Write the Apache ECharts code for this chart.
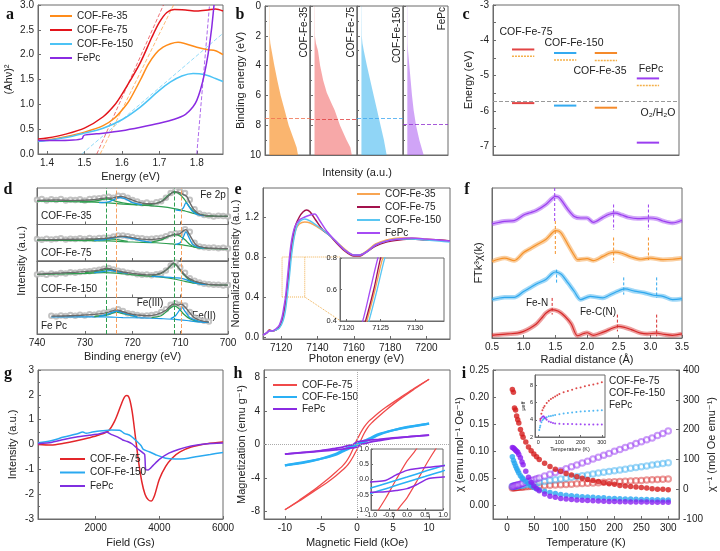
<!DOCTYPE html>
<html><head><meta charset="utf-8">
<script src="https://cdn.jsdelivr.net/npm/echarts@6/dist/echarts.min.js"></script>
<style>html,body{margin:0;padding:0;background:#fff}#c{width:720px;height:551px}</style>
</head><body><div id="c"></div>
<script>
// ---------------- DATA ----------------
// (a) Tauc plot
const aE35 = [[1.376,0.26],[1.40,0.28],[1.45,0.35],[1.50,0.44],[1.55,0.57],[1.58,0.72],[1.60,0.88],[1.62,1.08],[1.65,1.5],[1.67,1.8],[1.69,2.02],[1.71,2.15],[1.73,2.22],[1.75,2.25],[1.77,2.22],[1.80,2.15],[1.83,2.1],[1.85,2.08],[1.87,2.0]];
const aE75 = [[1.376,0.3],[1.40,0.32],[1.45,0.4],[1.50,0.52],[1.55,0.75],[1.58,0.98],[1.60,1.2],[1.62,1.45],[1.65,1.85],[1.68,2.35],[1.70,2.65],[1.72,2.85],[1.74,2.91],[1.77,2.9],[1.80,2.88],[1.83,2.9],[1.85,2.92],[1.87,2.88]];
const aE150 = [[1.376,0.25],[1.40,0.27],[1.45,0.33],[1.50,0.42],[1.55,0.52],[1.60,0.69],[1.65,0.95],[1.70,1.28],[1.73,1.45],[1.76,1.57],[1.79,1.62],[1.82,1.6],[1.85,1.52],[1.87,1.46]];
const aPc = [[1.376,0.27],[1.42,0.27],[1.47,0.28],[1.494,0.31],[1.497,0.36],[1.50,0.38],[1.55,0.42],[1.60,0.47],[1.65,0.54],[1.70,0.62],[1.74,0.7],[1.77,0.8],[1.79,0.95],[1.80,1.08],[1.81,1.3],[1.82,1.6],[1.83,2.0],[1.84,2.55],[1.846,3.0]];
const aTan35 = [[1.542,0],[1.738,3]];
const aTan75 = [[1.533,0],[1.711,3]];
const aTan150 = [[1.493,0],[1.87,2.43]];
const aTanPc = [[1.80,0],[1.834,3]];
const aTicksX = [1.4,1.5,1.6,1.7,1.8];

// (b) VB-XPS  [binding energy, intensity]
const bNames = ['COF-Fe-35','COF-Fe-75','COF-Fe-150','FePc'];
const b35 = [[0,0.5],[2,1],[2.5,3],[3,7],[4,15],[5,24],[6,34],[7,46],[8,58],[9,74],[9.5,82],[10,86]];
const b75 = [[0,0.5],[2,1],[2.5,4],[3,10],[4,16],[5,25],[5.8,35],[6.5,48],[7,58],[8,73],[9,92],[9.5,103],[10,107]];
const b150 = [[0,0.5],[2,1],[2.5,3],[3,7],[4,16],[5,26],[6,36],[7,46],[8,56],[9,66],[10,74]];
const bPc = [[0,0.5],[2.5,1],[3,2],[4,6],[5,10],[6,14],[7,19],[8,26],[9,36],[10,49]];
const bVBM = [7.55, 7.62, 7.5, 7.95];

// (c) band levels
const cNames = ['COF-Fe-75','COF-Fe-150','COF-Fe-35','FePc'];
const cX = [16.2, 38.8, 60.7, 83.3];
const cLUMO = [-4.26, -4.36, -4.36, -5.08];
const cFermi = [-4.45, -4.56, -4.57, -5.28];
const cHOMO = [-5.78, -5.85, -5.91, -6.9];
const cRef = -5.73;
const cTicks = [-3,-4,-5,-6,-7];

// (d) Fe 2p XPS
const dBE = [740,739,738,737,736,735,734,733,732,731,730,729,728,727,726,725,724,723,722,721,720,719,718,717,716,715,714,713,712,711,710,709,708,707,706,705,704,703,702,701,700];
const dBEPc = [737,736,735,734,733,732,731,730,729,728,727,726,725,724,723,722,721,720,719,718,717,716,715,714,713,712,711,710,709,708,707,706,705,704];
const d35pts = [0.68,0.70,0.66,0.69,0.67,0.70,0.66,0.68,0.67,0.69,0.66,0.70,0.71,0.72,0.74,0.76,0.73,0.79,0.78,0.73,0.67,0.63,0.58,0.60,0.57,0.61,0.64,0.73,0.86,0.93,0.90,0.86,0.68,0.42,0.30,0.26,0.25,0.22,0.24,0.23,0.22];
const d75pts = [0.60,0.58,0.61,0.59,0.60,0.62,0.59,0.61,0.60,0.62,0.60,0.63,0.61,0.63,0.64,0.64,0.67,0.70,0.70,0.68,0.66,0.63,0.62,0.60,0.61,0.62,0.64,0.68,0.73,0.76,0.76,0.87,0.80,0.50,0.40,0.38,0.36,0.37,0.35,0.36,0.34];
const d150pts = [0.63,0.65,0.62,0.66,0.64,0.67,0.66,0.69,0.68,0.70,0.71,0.72,0.74,0.76,0.79,0.81,0.77,0.73,0.71,0.68,0.67,0.64,0.62,0.63,0.61,0.64,0.66,0.74,0.88,0.96,0.82,0.68,0.53,0.46,0.41,0.38,0.36,0.35,0.35,0.33,0.34];
const dPcPts = [0.50,0.48,0.51,0.49,0.52,0.50,0.53,0.51,0.54,0.53,0.56,0.58,0.60,0.64,0.68,0.63,0.57,0.55,0.52,0.50,0.51,0.52,0.54,0.60,0.68,0.80,0.84,0.80,0.78,0.60,0.45,0.39,0.36,0.34];
const d35env = [[740,0.66],[736,0.67],[732,0.66],[729,0.67],[727,0.7],[725.5,0.73],[724.5,0.72],[723.5,0.75],[722.5,0.77],[721,0.72],[719,0.62],[717,0.57],[715,0.58],[713.5,0.66],[712.3,0.8],[711.3,0.9],[710.3,0.88],[709.3,0.82],[708.6,0.76],[708,0.6],[707.2,0.42],[706.2,0.3],[705,0.25],[703,0.23],[700,0.23]];
const d35bg = [[740,0.64],[730,0.62],[726,0.6],[722,0.56],[718,0.53],[714,0.49],[711,0.43],[709,0.37],[707,0.3],[705,0.25],[703,0.23],[700,0.22]];
const d35g1 = [[731,0.62],[728,0.64],[726.5,0.68],[725.5,0.7],[724.5,0.68],[723,0.62],[721,0.57],[719,0.54]];
const d35g2 = [[718,0.53],[716,0.55],[714,0.63],[712.5,0.8],[711.3,0.89],[710.3,0.85],[709.2,0.7],[708,0.47],[707,0.34],[705.5,0.26],[703,0.23]];
const d35b1 = [[727,0.6],[725,0.62],[723.8,0.69],[722.7,0.74],[721.5,0.7],[720,0.6],[718,0.54]];
const d35b2 = [[711,0.4],[710,0.38],[709.3,0.47],[708.8,0.6],[708.3,0.52],[707.5,0.37],[706.5,0.28],[705,0.24]];
const d75env = [[740,0.58],[735,0.59],[730,0.6],[727,0.61],[725,0.63],[723,0.67],[722,0.68],[720,0.64],[718,0.6],[716,0.59],[714,0.62],[712.5,0.68],[711.2,0.73],[710.2,0.74],[709.3,0.83],[708.8,0.86],[708.2,0.75],[707.3,0.55],[706.5,0.42],[705,0.37],[703,0.35],[700,0.34]];
const d75bg = [[740,0.57],[730,0.56],[725,0.55],[720,0.52],[715,0.5],[712,0.47],[709,0.43],[707,0.38],[705,0.35],[700,0.33]];
const d75g1 = [[730,0.57],[727,0.6],[725.5,0.62],[724,0.6],[721,0.54]];
const d75g2 = [[716,0.52],[714,0.58],[712.5,0.67],[711.2,0.72],[710,0.68],[709,0.58],[708,0.45],[707,0.38],[705.5,0.35]];
const d75b1 = [[728,0.56],[725,0.6],[722.5,0.67],[720.5,0.63],[718,0.55],[716,0.51]];
const d75b2 = [[711,0.45],[710,0.5],[709.3,0.68],[708.8,0.8],[708.3,0.68],[707.5,0.47],[706.5,0.39],[705,0.35]];
const d150env = [[740,0.64],[735,0.67],[730,0.71],[727,0.75],[725.3,0.8],[724,0.76],[722,0.7],[720,0.66],[717,0.62],[715,0.63],[713.5,0.7],[712.3,0.84],[711.4,0.95],[710.6,0.86],[709.6,0.7],[708.5,0.55],[707,0.45],[705,0.38],[703,0.35],[700,0.34]];
const d150bg = [[740,0.63],[730,0.66],[726,0.68],[722,0.65],[718,0.6],[714,0.56],[711,0.5],[709,0.44],[707,0.39],[704,0.35],[700,0.34]];
const d150g1 = [[730,0.68],[727,0.72],[725.3,0.77],[723.5,0.72],[721,0.66]];
const d150g2 = [[716,0.6],[714,0.66],[712.5,0.8],[711.4,0.93],[710.5,0.84],[709.5,0.66],[708.3,0.5],[707,0.42],[705,0.37]];
const d150b1 = [[728,0.68],[725.5,0.72],[724.5,0.74],[723,0.7],[721,0.66]];
const d150b2 = [[716,0.58],[713,0.56],[711,0.54],[709.5,0.52],[708,0.45],[706.5,0.39],[704.5,0.35]];
const dPcEnv = [[737,0.49],[733,0.5],[730,0.52],[727,0.55],[725,0.6],[723.3,0.66],[722,0.61],[720,0.54],[717,0.5],[715,0.53],[713,0.65],[711.8,0.8],[711,0.82],[710.5,0.79],[709.8,0.82],[709,0.74],[708,0.58],[707,0.44],[705.5,0.36],[704,0.33]];
const dPcBg = [[737,0.47],[730,0.47],[726,0.47],[722,0.45],[718,0.44],[714,0.42],[711,0.4],[708,0.36],[706,0.33],[704,0.32]];
const dPcG1 = [[728,0.48],[725,0.53],[723.5,0.6],[722,0.56],[719,0.47]];
const dPcG2 = [[716,0.45],[714,0.5],[712.5,0.66],[711.3,0.77],[710.3,0.7],[709.3,0.55],[708,0.42],[706,0.34]];
const dPcB1 = [[727,0.48],[725,0.55],[723.3,0.63],[721.5,0.56],[719,0.47]];
const dPcB2 = [[712,0.42],[711,0.5],[710,0.68],[709.6,0.72],[709,0.62],[708,0.45],[706.5,0.36],[704.5,0.32]];
const dGreenLines = [725.5, 711.2];
const dOrangeLines = [723.3, 709.7];
const dLabels = ['COF-Fe-35','COF-Fe-75','COF-Fe-150','Fe Pc'];

// (e) XANES
const e35 = [[7110,0.02],[7112,0.04],[7113.5,0.07],[7115,0.06],[7117,0.07],[7119,0.1],[7120.5,0.15],[7122,0.26],[7123,0.4],[7124.2,0.6],[7125.3,0.8],[7126.5,0.95],[7128,1.07],[7130,1.13],[7133,1.15],[7136,1.14],[7140,1.1],[7145,1.04],[7150,0.96],[7155,0.88],[7160,0.82],[7163,0.82],[7167,0.86],[7172,0.93],[7178,0.97],[7185,0.99],[7192,0.99],[7200,0.98],[7207,0.97],[7213,0.96]];
const e75 = [[7110,0.02],[7112,0.04],[7113.5,0.07],[7115,0.06],[7117,0.07],[7119,0.1],[7120.5,0.16],[7122,0.3],[7122.8,0.4],[7124,0.6],[7125,0.8],[7126.2,0.97],[7128,1.12],[7130,1.2],[7132,1.25],[7134,1.27],[7136,1.25],[7139,1.17],[7143,1.07],[7147,1.01],[7150,0.95],[7155,0.86],[7160,0.81],[7163,0.81],[7167,0.85],[7172,0.91],[7178,0.95],[7185,0.97],[7192,0.98],[7200,0.97],[7207,0.97],[7213,0.96]];
const e150 = [[7110,0.02],[7112,0.04],[7113.5,0.06],[7115,0.06],[7117,0.07],[7119,0.09],[7121,0.16],[7122.3,0.26],[7123.3,0.4],[7124.5,0.6],[7125.6,0.8],[7126.8,0.96],[7128.5,1.1],[7130.5,1.16],[7133,1.18],[7136,1.16],[7140,1.11],[7145,1.04],[7150,0.96],[7155,0.87],[7160,0.82],[7163,0.82],[7167,0.85],[7172,0.92],[7178,0.96],[7185,0.98],[7192,0.98],[7200,0.97],[7207,0.96],[7213,0.95]];
const ePc = [[7110,0.02],[7112,0.04],[7113.5,0.06],[7115,0.06],[7117,0.08],[7119,0.12],[7120.5,0.2],[7121.5,0.3],[7122.4,0.4],[7123.5,0.6],[7124.6,0.8],[7125.8,0.97],[7127.5,1.1],[7130,1.17],[7133,1.2],[7136,1.22],[7138.5,1.23],[7141,1.17],[7145,1.06],[7150,0.96],[7155,0.87],[7160,0.82],[7163,0.82],[7167,0.85],[7172,0.92],[7178,0.96],[7185,0.98],[7192,0.99],[7200,0.98],[7207,0.97],[7213,0.96]];
const eBox = [7120.5, 7133, 0.4, 0.8];
const eInsetCorner = [7152.8, 0.8, 0.16];
const eTicksX = [7120,7140,7160,7180,7200];
const eTicksY = [0,0.4,0.8,1.2];

// (f) EXAFS R-space
const fPc = [[0.5,76],[0.6,77],[0.7,77.8],[0.85,78.2],[1.0,82],[1.1,83.5],[1.2,85],[1.35,89],[1.45,93],[1.5,94.4],[1.55,94],[1.6,91.6],[1.7,85.6],[1.8,81],[1.9,80],[2.0,80],[2.1,77.1],[2.25,80.4],[2.35,82.5],[2.45,83.3],[2.55,82],[2.65,80.5],[2.8,79.6],[3.0,80],[3.1,79.5],[3.2,78],[3.35,76.7],[3.5,78.5]];
const f35 = [[0.5,51],[0.6,52.5],[0.7,53.3],[0.85,51.6],[1.0,57],[1.1,59.5],[1.2,62],[1.35,65.6],[1.45,70],[1.5,71.6],[1.55,71.3],[1.6,69.5],[1.7,62.2],[1.8,55],[1.85,52.2],[2.0,52.9],[2.1,51.6],[2.25,54.4],[2.35,56.5],[2.45,57.3],[2.55,56.5],[2.7,54],[2.85,52.5],[3.0,53.3],[3.2,52.2],[3.35,52.5],[3.5,53.3]];
const f150 = [[0.5,25.6],[0.6,26.5],[0.7,27.1],[0.85,27.1],[1.0,31],[1.1,33.5],[1.2,36],[1.35,39],[1.45,43],[1.5,44],[1.55,43.5],[1.6,42.2],[1.7,36.7],[1.8,31],[1.9,25.6],[2.05,27.8],[2.25,26.7],[2.35,28.5],[2.45,30.5],[2.6,32.7],[2.75,31.2],[2.9,30.2],[3.05,28.5],[3.2,27.8],[3.35,25.6],[3.5,26.2]];
const f75 = [[0.5,1.8],[0.6,2.2],[0.75,2.7],[0.9,3.2],[1.0,4.4],[1.1,6.5],[1.2,9.3],[1.3,14],[1.35,16.5],[1.45,18.9],[1.55,17.8],[1.65,14.5],[1.75,9.5],[1.85,1.5],[1.95,3],[2.0,3.5],[2.1,1.8],[2.2,3],[2.3,4.6],[2.4,6.5],[2.5,7.8],[2.6,7],[2.7,5.6],[2.85,3.2],[2.95,2.7],[3.1,3.3],[3.2,2.5],[3.35,1.8],[3.5,2.7]];
const fDashPc = [[1.49,100,78],[2.42,89,72],[2.97,89,72]];
const fDash35 = [[1.5,78,56],[2.42,67,50],[2.97,67,52]];
const fDash150 = [[1.52,45.6,35.6],[2.58,40.4,28.9],[3.1,40.4,26.7]];
const fDash75 = [[1.45,26.7,15.6],[2.48,15.6,4.4],[3.1,15.6,1.1]];

// (g) EPR
const g75 = [[190,0],[600,-0.02],[1000,0.05],[1400,0.15],[1800,0.27],[2100,0.38],[2400,0.55],[2600,0.95],[2800,1.6],[2900,1.9],[2980,1.97],[3060,1.85],[3150,1.3],[3250,0.3],[3350,-0.7],[3450,-1.5],[3550,-2.0],[3650,-2.22],[3740,-2.28],[3850,-2.05],[4000,-1.4],[4200,-0.88],[4400,-0.55],[4650,-0.3],[5000,-0.1],[5500,0.03],[6000,0.1]];
const g150 = [[190,0.07],[600,0.15],[1000,0.3],[1400,0.42],[1600,0.5],[1700,0.45],[1900,0.5],[2200,0.55],[2500,0.58],[2750,0.57],[2900,0.45],[3100,0.35],[3300,0.12],[3430,-0.05],[3500,-0.2],[3700,-0.3],[3900,-0.42],[4200,-0.55],[4500,-0.58],[4800,-0.57],[5200,-0.48],[5600,-0.4],[6000,-0.32]];
const gPc = [[190,0.03],[600,0.08],[1000,0.2],[1400,0.3],[1800,0.37],[2100,0.42],[2350,0.5],[2500,0.4],[2700,0.3],[2850,0.18],[3000,0.12],[3150,0.02],[3300,-0.15],[3450,-0.3],[3540,-0.4],[3570,-1.0],[3650,-1.03],[3800,-0.85],[4000,-0.6],[4300,-0.35],[4600,-0.2],[5000,-0.06],[5500,0.03],[6000,0.06]];
const gTicksX = [2000,4000,6000];

// (h) M-H loops
const h75down = [[10,7.8],[8,6.75],[6,5.6],[4,4.45],[3,3.8],[2,3.05],[1.5,2.65],[1,2.1],[0.5,1.4],[0.2,0.9],[0,0.6],[-0.3,0],[-0.6,-0.63],[-1,-1.35],[-1.5,-2.05],[-2,-2.55],[-3,-3.35],[-4,-4.1],[-6,-5.45],[-8,-6.65],[-10,-7.8]];
const h75up = [[-10,-7.8],[-8,-6.75],[-6,-5.6],[-4,-4.45],[-3,-3.8],[-2,-3.05],[-1.5,-2.65],[-1,-2.1],[-0.5,-1.4],[-0.2,-0.9],[0,-0.6],[0.3,0],[0.6,0.63],[1,1.35],[1.5,2.05],[2,2.55],[3,3.35],[4,4.1],[6,5.45],[8,6.65],[10,7.8]];
const h150down = [[10,2.5],[7,2.05],[5,1.7],[3,1.25],[2,0.85],[1,0.45],[0.5,0.27],[0,0.08],[-0.5,-0.1],[-1,-0.28],[-2,-0.7],[-3,-1.15],[-5,-1.7],[-7,-2.1],[-10,-2.5]];
const h150up = [[-10,-2.5],[-7,-2.05],[-5,-1.7],[-3,-1.25],[-2,-0.85],[-1,-0.45],[-0.5,-0.27],[0,-0.08],[0.5,0.1],[1,0.28],[2,0.7],[3,1.15],[5,1.7],[7,2.1],[10,2.5]];
const hPcDown = [[10,1.12],[7,0.92],[5,0.78],[3,0.62],[2,0.55],[1,0.45],[0.6,0.4],[0.3,0.36],[0,0.3],[-0.3,0.15],[-0.6,-0.03],[-1,-0.08],[-2,-0.3],[-3,-0.45],[-5,-0.72],[-7,-0.92],[-10,-1.15]];
const hPcUp = [[-10,-1.15],[-7,-0.94],[-5,-0.8],[-3,-0.63],[-2,-0.55],[-1,-0.42],[-0.6,-0.4],[-0.3,-0.36],[0,-0.3],[0.3,-0.15],[0.6,0.03],[1,0.08],[2,0.3],[3,0.45],[5,0.72],[7,0.92],[10,1.12]];
const hTicksX = [-10,-5,0,5,10];
const hTicksY = [-8,-4,0,4,8];

// (i) susceptibility
const iT = [10,12,14,16,18,20,22,25,28,30,35,40,45,50,55,60,70,80,90,100,110,120,130,140,150,160,170,180,190,200,210,220,230,240,250,260,270,280,290,300];
const iChi75 = [0.214,0.209,0.180,0.176,0.165,0.158,0.152,0.140,0.132,0.126,0.117,0.108,0.101,0.095,0.090,0.085,0.078,0.072,0.067,0.063,0.059,0.056,0.053,0.050,0.048,0.046,0.044,0.042,0.040,0.039,0.037,0.036,0.035,0.034,0.033,0.032,0.031,0.030,0.030,0.029];
const iChi150 = [0.090,0.083,0.078,0.073,0.068,0.064,0.060,0.055,0.051,0.049,0.044,0.040,0.036,0.033,0.031,0.029,0.026,0.024,0.022,0.020,0.019,0.018,0.017,0.016,0.0155,0.015,0.014,0.014,0.013,0.013,0.0125,0.012,0.012,0.0115,0.011,0.011,0.0105,0.0105,0.010,0.010];
const iChiPc = [0.107,0.106,0.104,0.102,0.100,0.098,0.094,0.088,0.080,0.075,0.063,0.052,0.043,0.036,0.031,0.027,0.021,0.017,0.015,0.013,0.012,0.011,0.010,0.0095,0.009,0.0085,0.008,0.0078,0.0075,0.0072,0.007,0.0068,0.0066,0.0065,0.0063,0.0062,0.006,0.006,0.0058,0.0057];
const iInv75 = [4,4.5,5,5.5,6,6.3,6.6,7,7.5,7.8,8.5,9,9.5,10,10.5,11,12,13,14,15,16,17,18,19,20,21,22,23,24,25,26,27,27.5,28.5,29.5,30.5,31.5,32.5,33.5,34.5];
const iInv150 = [9,9.5,10,10.5,11,11.5,12,13,14,14.5,16,17.5,19,20.5,22,23.5,26,29,32,34.5,37,40,43,45.5,48,51,54,56.5,59,62,64.5,67,70,72.5,75,78,81,83.5,86,89];
const iInvPc = [9,10,11,12,13,14,15,17,19,20,23,26,29,32,35,38,44,50,56,62,69,75,81,88,94,101,107,114,120,127,133,140,146,153,159,166,172,180,187,195];
const iMu75 = [[10,4.1],[15,4.7],[20,5.1],[25,5.4],[30,5.6],[40,5.95],[50,6.2],[60,6.4],[70,6.55],[80,6.7],[90,6.85],[100,7.0],[120,7.2],[140,7.35],[160,7.5],[180,7.65],[200,7.75],[220,7.9],[240,8.0],[260,8.1],[280,8.2],[300,8.35]];
const iMu150 = [[5,2.8],[8,3.1],[10,3.3],[15,3.7],[20,3.95],[25,4.1],[30,4.2],[40,4.3],[50,4.4],[60,4.45],[70,4.5],[80,4.55],[100,4.65],[120,4.72],[140,4.8],[160,4.85],[180,4.9],[200,4.95],[220,5.0],[240,5.02],[260,5.05],[280,5.08],[300,5.1]];
const iMuPc = [[10,3.9],[15,4.2],[20,4.35],[25,4.4],[30,4.3],[35,4.15],[40,4.0],[50,3.8],[60,3.7],[70,3.62],[80,3.58],[100,3.55],[120,3.52],[140,3.5],[160,3.5],[180,3.48],[200,3.47],[220,3.46],[240,3.46],[260,3.45],[280,3.45],[300,3.45]];
const iTicksX = [0,50,100,150,200,250,300];
const iTicksL = [0,0.05,0.1,0.15,0.2,0.25];

// ---------------- BUILD ----------------
const FONT = '"Liberation Sans", Arial, "DejaVu Sans", sans-serif';
const AX = '#6b6b6b';
const grids=[], xAxes=[], yAxes=[], series=[], legends=[], graphics=[];
const strip = n => n.split('@')[0];
function isObj(v){return v && typeof v==='object' && !Array.isArray(v) && typeof v!=='function';}
function merge(a,b){const o=Object.assign({},a);for(const k in b){if(isObj(b[k])&&isObj(a[k]))o[k]=merge(a[k],b[k]);else o[k]=b[k];}return o;}
function addGrid(l,t,w,h,inset){const g={left:l,top:t,width:w,height:h,show:true,borderColor:AX,borderWidth:1};if(inset){g.backgroundColor='#fff';g.z=10;}grids.push(g);return grids.length-1;}
const plain=v=>String(v);
const baseAxis={type:'value',nameLocation:'middle',axisLine:{show:true,onZero:false,lineStyle:{color:AX,width:1}},axisTick:{show:true,inside:true,length:3,lineStyle:{color:AX}},axisLabel:{fontSize:10,color:'#222',fontFamily:FONT,margin:4,formatter:plain},splitLine:{show:false},nameTextStyle:{fontSize:11,color:'#222',fontFamily:FONT}};
function addX(g,o){xAxes.push(merge(merge(baseAxis,{gridIndex:g}),o||{}));return xAxes.length-1;}
function addY(g,o){yAxes.push(merge(merge(baseAxis,{gridIndex:g}),o||{}));return yAxes.length-1;}
function line(xi,yi,name,data,color,width,extra){series.push(merge({type:'line',name:name,xAxisIndex:xi,yAxisIndex:yi,data:data,symbol:'none',showSymbol:false,smooth:0.3,silent:true,lineStyle:{color:color,width:width||1.5},itemStyle:{color:color}},extra||{}));}
function txt(x,y,text,st,el){graphics.push(Object.assign({type:'text',x:x,y:y,silent:true,style:Object.assign({text:text,fontSize:10,fontFamily:FONT,fill:'#222',textAlign:'center',textVerticalAlign:'middle',align:'center',verticalAlign:'middle'},st||{})},el||{}));}
const legTxt={fontSize:10,color:'#222',fontFamily:FONT};
function legend(left,top,names,iw,gap,extra){legends.push(merge({left:left,top:top,orient:'vertical',icon:'rect',itemWidth:iw,itemHeight:2,itemGap:gap,padding:0,selectedMode:false,data:names,formatter:strip,textStyle:legTxt},extra||{}));}
const hide={axisLabel:{show:false},axisTick:{show:false}};
const fx1=v=>v.toFixed(1), fx2=v=>v.toFixed(2);

// ---- (a)
{
  const C={or:'#ff8c1a',red:'#e3141b',bl:'#4cc3f5',pu:'#8a2be2'};
  const g=addGrid(38,5,185,149);
  const x=addX(g,{min:1.376,max:1.87,name:'Energy (eV)',nameGap:17,axisLabel:{customValues:aTicksX,formatter:fx1},axisTick:{customValues:aTicksX}});
  const y=addY(g,{min:0,max:3,interval:0.5,name:'(Ahν)²',nameGap:24,axisLabel:{formatter:fx1}});
  line(x,y,'tan35',aTan35,C.or,1,{smooth:false,lineStyle:{type:'dashed',opacity:0.6}});
  line(x,y,'tan75',aTan75,C.red,1,{smooth:false,lineStyle:{type:'dashed',opacity:0.6}});
  line(x,y,'tan150',aTan150,C.bl,1,{smooth:false,lineStyle:{type:'dashed',opacity:0.6}});
  line(x,y,'tanPc',aTanPc,C.pu,1,{smooth:false,lineStyle:{type:'dashed',opacity:0.7}});
  line(x,y,'COF-Fe-35@a',aE35,C.or,1.5);
  line(x,y,'COF-Fe-75@a',aE75,C.red,1.5);
  line(x,y,'COF-Fe-150@a',aE150,C.bl,1.5);
  line(x,y,'FePc@a',aPc,C.pu,1.5,{smooth:0.15});
  legend(50,11,['COF-Fe-35@a','COF-Fe-75@a','COF-Fe-150@a','FePc@a'],22,4);
}
// ---- (b)
{
  const curves=[b35,b75,b150,bPc];
  const fills=['rgba(248,150,50,0.7)','rgba(242,110,110,0.6)','rgba(70,185,240,0.6)','rgba(170,90,240,0.55)'];
  const dashes=['#f07050','#e04040','#40a8f0','#9030d0'];
  const lefts=[265,310,357,403], widths=[45,47,46,45];
  curves.forEach((cv,k)=>{
    const g=addGrid(lefts[k],6,widths[k],149);
    const x=addX(g,merge(hide,{min:-13,max:122}));
    const yo={min:0,max:10,interval:2,inverse:true,minorTick:{show:true,splitNumber:2,length:2,lineStyle:{color:AX}}};
    if(k>0) yo.axisLabel={show:false}; else {yo.name='Binding energy (eV)';yo.nameGap=16;}
    const y=addY(g,yo);
    series.push({type:'custom',name:bNames[k]+'@b',xAxisIndex:x,yAxisIndex:y,silent:true,clip:true,
      itemStyle:{color:fills[k]},encode:{x:0,y:1},data:cv.map(p=>[p[1],p[0]]),
      renderItem:(params,api)=>{ if(params.dataIndex!==0) return null;
        const pts=cv.map(p=>api.coord([p[1],p[0]]));
        pts.push(api.coord([0,cv[cv.length-1][0]])); pts.push(api.coord([0,cv[0][0]]));
        return {type:'polygon',shape:{points:pts},style:{fill:fills[k]}}; }});
    series.push({type:'line',name:'vbm'+k,xAxisIndex:x,yAxisIndex:y,data:[],silent:true,
      markLine:{silent:true,symbol:['none','none'],label:{show:false},lineStyle:{color:dashes[k],type:'dashed',width:1,opacity:0.8},data:[{yAxis:bVBM[k]}]}});
    txt(lefts[k]+widths[k]-6,7,bNames[k],{textAlign:'right',align:'right',fontSize:10},{rotation:Math.PI/2});
  });
  txt(357,173,'Intensity (a.u.)',{fontSize:11});
}
// ---- (c)
{
  const cols=['#e24444','#33aaf0','#f58a2a','#9b3ef0'];
  const g=addGrid(493,5,186,150);
  const x=addX(g,merge(hide,{min:0,max:100}));
  const yt=[-3,-3.5,-4,-4.5,-5,-5.5,-6,-6.5,-7];
  const y=addY(g,{min:-7.25,max:-3,name:'Energy (eV)',nameGap:19,axisLabel:{customValues:cTicks},axisTick:{customValues:yt}});
  const seg=(dash,w)=>(params,api)=>{const xv=api.value(0),yv=api.value(1);const p1=api.coord([xv-6,yv]),p2=api.coord([xv+6,yv]);
    return {type:'line',shape:{x1:p1[0],y1:p1[1],x2:p2[0],y2:p2[1]},style:{stroke:api.visual('color'),lineWidth:w,lineDash:dash}};};
  series.push({type:'custom',name:'LUMO',xAxisIndex:x,yAxisIndex:y,silent:true,renderItem:seg(null,2),data:cX.map((v,i)=>({value:[v,cLUMO[i]],itemStyle:{color:cols[i]}}))});
  series.push({type:'custom',name:'HOMO',xAxisIndex:x,yAxisIndex:y,silent:true,renderItem:seg(null,2),data:cX.map((v,i)=>({value:[v,cHOMO[i]],itemStyle:{color:cols[i]}}))});
  series.push({type:'custom',name:'Fermi',xAxisIndex:x,yAxisIndex:y,silent:true,renderItem:seg([2,1],1.5),data:cX.map((v,i)=>({value:[v,cFermi[i]],itemStyle:{color:'#f4b04a'}}))});
  series.push({type:'line',name:'ref',xAxisIndex:x,yAxisIndex:y,data:[],silent:true,
    markLine:{silent:true,symbol:['none','none'],label:{show:false},lineStyle:{color:'#999',type:'dashed',width:1},data:[{yAxis:cRef}]}});
  txt(526,32,'COF-Fe-75',{fontSize:10.5});
  txt(574,43,'COF-Fe-150',{fontSize:10.5});
  txt(600,71,'COF-Fe-35',{fontSize:10.5});
  txt(651,69,'FePc',{fontSize:10.5});
  txt(658,113,'O₂/H₂O',{fontSize:10.5});
}
// ---- (d)
{
  const sets=[[d35pts,dBE,d35env,d35bg,d35g1,d35g2,d35b1,d35b2],[d75pts,dBE,d75env,d75bg,d75g1,d75g2,d75b1,d75b2],[d150pts,dBE,d150env,d150bg,d150g1,d150g2,d150b1,d150b2],[dPcPts,dBEPc,dPcEnv,dPcBg,dPcG1,dPcG2,dPcB1,dPcB2]];
  const GR='#2e9e4f', BL='#1a9be6', H=36.5, top0=188;
  sets.forEach((s,k)=>{
    const g=addGrid(37,top0+k*H,191,H);
    const xo={min:700,max:740,interval:10,inverse:true};
    if(k<3){xo.axisLabel={show:false};} else {xo.name='Binding energy (eV)';xo.nameGap=17;}
    const x=addX(g,xo);
    const y=addY(g,merge(hide,{min:0,max:1}));
    series.push({type:'scatter',name:'pts'+k,xAxisIndex:x,yAxisIndex:y,silent:true,symbol:'emptyCircle',symbolSize:4.5,
      itemStyle:{color:'#b4b4b4',borderWidth:0.8,opacity:0.8},data:s[1].map((b,i)=>[b,s[0][i]])});
    line(x,y,'bg'+k,s[3],k===3?BL:GR,1.2,{markLine:{silent:true,symbol:['none','none'],label:{show:false},
      data:dGreenLines.map(v=>({xAxis:v,lineStyle:{color:GR,type:'dashed',width:1}})).concat(dOrangeLines.map(v=>({xAxis:v,lineStyle:{color:'#f5a060',type:'dashed',width:1}})))}});
    line(x,y,'g1'+k,s[4],GR,1.3);
    line(x,y,'g2'+k,s[5],GR,1.3);
    line(x,y,'b1'+k,s[6],BL,1.3);
    line(x,y,'b2'+k,s[7],BL,1.3);
    line(x,y,'env'+k,s[2],'#6a6a6a',1.4);
    txt(41,top0+k*H+H-8,dLabels[k],{textAlign:'left',align:'left',fontSize:10});
  });
  txt(213,195,'Fe 2p',{fontSize:10});
  txt(150,303,'Fe(III)',{fontSize:10});
  txt(204,316,'Fe(II)',{fontSize:10});
  txt(22,261,'Intensity (a.u.)',{fontSize:11},{rotation:Math.PI/2});
}
// ---- (e)
{
  const C={or:'#f8a552',red:'#a3124c',bl:'#5ac6f2',pu:'#a64bf4'};
  const g=addGrid(263,188,187,151);
  const x=addX(g,{min:7110,max:7213,name:'Photon energy (eV)',nameGap:14,axisLabel:{customValues:eTicksX},axisTick:{customValues:eTicksX}});
  const y=addY(g,{min:-0.02,max:1.49,name:'Normalized intensity (a.u.)',nameGap:17,axisLabel:{customValues:eTicksY,formatter:fx1},axisTick:{customValues:eTicksY}});
  const bx=[[eBox[0],eBox[2]],[eBox[1],eBox[2]],[eBox[1],eBox[3]],[eBox[0],eBox[3]],[eBox[0],eBox[2]]];
  line(x,y,'box',bx,'#f0b050',1,{smooth:false,lineStyle:{type:'dotted'}});
  line(x,y,'zoomTop',[[eBox[1],eBox[3]],[eInsetCorner[0],eInsetCorner[1]]],'#f0b050',1,{smooth:false,lineStyle:{type:'dotted'}});
  line(x,y,'zoomBot',[[eBox[1],eBox[2]],[eInsetCorner[0],eInsetCorner[2]]],'#f0b050',1,{smooth:false,lineStyle:{type:'dotted'}});
  line(x,y,'COF-Fe-35@e',e35,C.or,1.5);
  line(x,y,'COF-Fe-75@e',e75,C.red,1.5);
  line(x,y,'COF-Fe-150@e',e150,C.bl,1.5);
  line(x,y,'FePc@e',ePc,C.pu,1.5);
  legend(357,189,['COF-Fe-35@e','COF-Fe-75@e','COF-Fe-150@e','FePc@e'],23,3);
  // inset
  const gi=addGrid(340,258,104,63,true);
  const insTicks=[7120,7125,7130];
  const xi=addX(gi,{z:11,min:7119.1,max:7134.2,axisLabel:{fontSize:7.5,margin:3,customValues:insTicks},axisTick:{customValues:insTicks,length:2}});
  const yi=addY(gi,{z:11,min:0.4,max:0.8,interval:0.2,axisLabel:{fontSize:7.5,margin:3,formatter:fx1},axisTick:{length:2}});
  [[e35,C.or],[e75,C.red],[e150,C.bl],[ePc,C.pu]].forEach((p,i)=>line(xi,yi,'ins'+i,p[0],p[1],1.3,{z:12,clip:true}));
}
// ---- (f)
{
  const C={pu:'#9b3ef0',or:'#f5922a',bl:'#2fa8ee',red:'#d62a2a'};
  const g=addGrid(492,188,190,150);
  const x=addX(g,{min:0.5,max:3.5,interval:0.5,name:'Radial distance (Å)',nameGap:16,axisLabel:{formatter:fx1}});
  const y=addY(g,merge(hide,{min:0,max:100,name:'FTk³χ(k)',nameGap:8}));
  [[fPc,C.pu,fDashPc],[f35,C.or,fDash35],[f150,C.bl,fDash150],[f75,C.red,fDash75]].forEach((p,i)=>{
    line(x,y,'band'+i,p[0],p[1],4.5,{lineStyle:{opacity:0.45}});
    line(x,y,'fit'+i,p[0],p[1],1.2);
    series.push({type:'custom',name:'dash'+i,xAxisIndex:x,yAxisIndex:y,silent:true,data:p[2],
      renderItem:(params,api)=>{const a=api.coord([api.value(0),api.value(1)]),b=api.coord([api.value(0),api.value(2)]);
        return {type:'line',shape:{x1:a[0],y1:a[1],x2:b[0],y2:b[1]},style:{stroke:p[1],lineWidth:1,lineDash:[3,2]}};}});
  });
  txt(537,303,'Fe-N',{fontSize:10});
  txt(598,312,'Fe-C(N)',{fontSize:10});
}
// ---- (g)
{
  const C={red:'#e3262a',bl:'#2aa9f0',pu:'#7f2fe0'};
  const g=addGrid(38,370,185,149);
  const x=addX(g,{min:190,max:6000,name:'Field (Gs)',nameGap:18,axisLabel:{customValues:gTicksX},axisTick:{customValues:gTicksX}});
  const y=addY(g,{min:-3,max:3,interval:1,name:'Intensity (a.u.)',nameGap:20,minorTick:{show:true,splitNumber:2,length:2,lineStyle:{color:AX}}});
  line(x,y,'COF-Fe-75@g',g75,C.red,1.5);
  line(x,y,'COF-Fe-150@g',g150,C.bl,1.5);
  line(x,y,'FePc@g',gPc,C.pu,1.5,{smooth:0.15});
  legend(60,454,['COF-Fe-75@g','COF-Fe-150@g','FePc@g'],25,3.5);
}
// ---- (h)
{
  const C={red:'#f04a4a',bl:'#2ab0f5',pu:'#8a2be2'};
  const g=addGrid(264,370,186,149);
  const x=addX(g,{min:-12.9,max:12.9,name:'Magnetic Field (kOe)',nameGap:18,axisLabel:{customValues:hTicksX},axisTick:{customValues:hTicksX}});
  const y=addY(g,{min:-8.9,max:8.9,name:'Magnetization (emu g⁻¹)',nameGap:13,axisLabel:{customValues:hTicksY},axisTick:{customValues:hTicksY}});
  series.push({type:'line',name:'cross',xAxisIndex:x,yAxisIndex:y,data:[],silent:true,
    markLine:{silent:true,symbol:['none','none'],label:{show:false},lineStyle:{color:'#aaa',type:'dotted',width:1},data:[{xAxis:0},{yAxis:0}]}});
  line(x,y,'COF-Fe-75@h',h75down,C.red,1.3);
  line(x,y,'r2',h75up,C.red,1.3);
  line(x,y,'COF-Fe-150@h',h150down,C.bl,2.2);
  line(x,y,'b2',h150up,C.bl,2.2);
  line(x,y,'FePc@h',hPcDown,C.pu,1.8);
  line(x,y,'p2',hPcUp,C.pu,1.8);
  legend(273,380,['COF-Fe-75@h','COF-Fe-150@h','FePc@h'],24,2);
  const gi=addGrid(371,449,72,61,true);
  const xi=addX(gi,{z:11,min:-1,max:1,interval:0.5,axisLabel:{fontSize:7,margin:2,formatter:fx1},axisTick:{length:2}});
  const yi=addY(gi,{z:11,min:-1,max:1,interval:0.5,axisLabel:{fontSize:7,margin:2,formatter:fx1},axisTick:{length:2}});
  series.push({type:'line',name:'cross2',xAxisIndex:xi,yAxisIndex:yi,data:[],silent:true,z:12,
    markLine:{silent:true,symbol:['none','none'],label:{show:false},lineStyle:{color:'#aaa',type:'dotted',width:1},data:[{xAxis:0}]}});
  [[h75down,C.red,1.2],[h75up,C.red,1.2],[h150down,C.bl,1.5],[h150up,C.bl,1.5],[hPcDown,C.pu,1.5],[hPcUp,C.pu,1.5]].forEach((p,i)=>line(xi,yi,'hi'+i,p[0],p[1],p[2],{z:12,clip:true}));
}
// ---- (i)
{
  const C={red:'#d41c1c',bl:'#27a6f0',pu:'#8a1ff0'};
  const g=addGrid(493,370,186,149);
  const x=addX(g,{min:-26,max:320,name:'Temperature (K)',nameGap:18,axisLabel:{customValues:iTicksX},axisTick:{customValues:iTicksX}});
  const yl=addY(g,{min:-0.025,max:0.25,name:'χ (emu mol⁻¹ Oe⁻¹)',nameGap:25,axisLabel:{customValues:iTicksL,formatter:fx2},axisTick:{customValues:iTicksL}});
  const yr=addY(g,{min:-100,max:400,interval:100,position:'right',name:'χ⁻¹ (mol Oe emu⁻¹)',nameGap:27});
  const open=(name,vals,col)=>series.push({type:'scatter',name:name,xAxisIndex:x,yAxisIndex:yr,silent:true,symbol:'emptyCircle',symbolSize:5.5,
    itemStyle:{color:col,borderWidth:1.2,opacity:0.45},data:iT.map((t,i)=>[t,vals[i]])});
  const fill=(name,vals,col)=>series.push({type:'scatter',name:name,xAxisIndex:x,yAxisIndex:yl,silent:true,symbol:'circle',symbolSize:5.5,
    itemStyle:{color:col},data:iT.map((t,i)=>[t,vals[i]])});
  open('o75',iInv75,C.red); open('o150',iInv150,C.bl); open('oPc',iInvPc,C.pu);
  fill('COF-Fe-75@i',iChi75,C.red); fill('COF-Fe-150@i',iChi150,C.bl); fill('FePc@i',iChiPc,C.pu);
  legend(594,376,['COF-Fe-75@i','COF-Fe-150@i','FePc@i'],14,2,{icon:'circle',itemHeight:6});
  const gi=addGrid(535,375,70,62,true);
  const itx=[0,100,200,300], ity=[2,4,6,8];
  const xi=addX(gi,{z:11,min:-15,max:315,name:'Temperature (K)',nameGap:9,nameTextStyle:{fontSize:5.5},axisLabel:{fontSize:5.5,margin:2,customValues:itx},axisTick:{customValues:itx,length:2}});
  const yi=addY(gi,{z:11,min:2,max:9.2,name:'μeff',nameGap:6,nameTextStyle:{fontSize:5.5},axisLabel:{fontSize:5.5,margin:2,customValues:ity},axisTick:{customValues:ity,length:2}});
  [[iMu75,C.red],[iMu150,C.bl],[iMuPc,C.pu]].forEach((p,i)=>series.push({type:'scatter',name:'mu'+i,xAxisIndex:xi,yAxisIndex:yi,silent:true,z:12,symbolSize:2,itemStyle:{color:p[1]},data:p[0]}));
}
// panel letters
[['a',10,15],['b',240,15],['c',466,15],['d',8,190],['e',238,190],['f',467,190],['g',8,374],['h',238,374],['i',464,374]].forEach(l=>
  txt(l[1],l[2],l[0],{fontSize:16,fontWeight:'bold',fontFamily:'"Liberation Serif","DejaVu Serif",serif',fill:'#111'}));

const chart=echarts.init(document.getElementById('c'),null,{renderer:'canvas'});
chart.setOption({animation:false,backgroundColor:'#fff',textStyle:{fontFamily:FONT},grid:grids,xAxis:xAxes,yAxis:yAxes,series:series,legend:legends,graphic:{elements:graphics}});
</script></body></html>
